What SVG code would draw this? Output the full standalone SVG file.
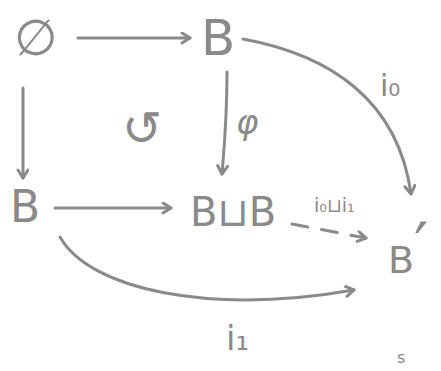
<svg xmlns="http://www.w3.org/2000/svg" width="441" height="371" viewBox="0 0 441 371">
<defs>
<style>
.t{fill:#8a8a8a;font-family:"DejaVu Sans","Liberation Sans",sans-serif;}
.e{fill:none;stroke:#8a8a8a;stroke-width:3;stroke-linecap:round;stroke-linejoin:round;}
</style>
<marker id="ah" markerUnits="userSpaceOnUse" markerWidth="16" markerHeight="16" refX="10" refY="6" orient="auto">
<path d="M2,1 L10,6 L2,11" fill="none" stroke="#8a8a8a" stroke-width="3" stroke-linecap="round" stroke-linejoin="round"/>
</marker>
</defs>
<rect width="441" height="371" fill="#ffffff"/>
<g id="edges">
<path class="e" d="M78,38 L190,38" marker-end="url(#ah)"/>
<path class="e" d="M23,88 L23,178" marker-end="url(#ah)"/>
<path class="e" d="M227,72 C227,120 224,150 222,174" marker-end="url(#ah)"/>
<path class="e" d="M55,208 L171,208" marker-end="url(#ah)"/>
<path class="e" d="M292,224 L366,238" stroke-dasharray="16,14" marker-end="url(#ah)"/>
<path class="e" d="M243,39 C330,55 398,100 411,194" marker-end="url(#ah)"/>
<path class="e" d="M60,237 C90,290 210,315 354,290" marker-end="url(#ah)"/>
</g>
<g id="empty"><text class="t" x="14" y="55" font-size="50">∅</text></g>
<g id="Btop"><text class="t" x="201" y="55" font-size="50">B</text></g>
<g id="Bleft"><text class="t" x="10" y="222" font-size="44">B</text></g>
<g id="BsumB"><text class="t" x="190" y="226" font-size="40">B⊔B</text></g>
<g id="Bprime"><text class="t" x="388" y="273" font-size="38">B</text><text class="t" x="414" y="268" font-size="64">′</text></g>
<g id="labels">
<text class="t" x="122" y="145" font-size="48">↺</text>
<text class="t" x="236" y="134" font-size="34" font-style="italic">φ</text>
<text class="t" x="380" y="96" font-size="30">i₀</text>
<text class="t" x="314" y="212" font-size="19">i₀⊔i₁</text>
<text class="t" x="226" y="350" font-size="34">i₁</text>
<text class="t" x="397" y="363" font-size="16">s</text>
</g>
</svg>
